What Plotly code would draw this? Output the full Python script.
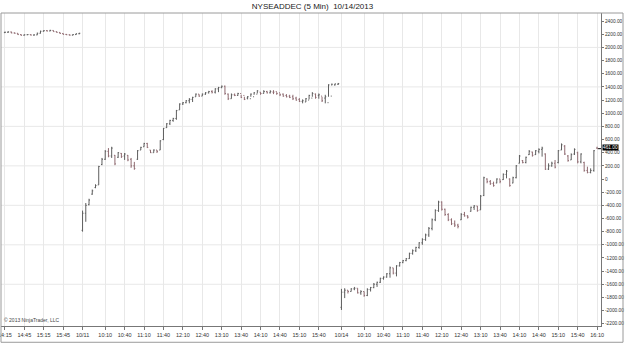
import plotly.graph_objects as go

# ---------------- data (NYSE Advance-Decline, 5 min bars) ----------------
# Session 1: 10/10 afternoon 14:15 .. 16:10
s1_open  = [2225,2230,2235,2220,2215,2195,2185,2192,2195,2188,2190,2215,2245,2255,2250,2258,2240,2228,2212,2198,2192,2186,2195,2208]
s1_high  = [2240,2245,2240,2228,2218,2200,2198,2200,2198,2196,2225,2255,2262,2262,2268,2260,2245,2232,2215,2205,2198,2200,2212,2222]
s1_low   = [2218,2222,2215,2210,2190,2180,2180,2186,2182,2180,2186,2210,2240,2244,2245,2238,2225,2208,2195,2188,2180,2182,2190,2200]
s1_close = [2230,2235,2220,2215,2195,2185,2192,2195,2188,2190,2215,2245,2255,2250,2258,2240,2228,2212,2198,2192,2186,2195,2208,2215]

# Session 2: 10/11 09:35 .. 16:10
s2_open  = [-780,-520,-390,-230,-130,-90,220,300,420,350,360,330,390,350,360,300,200,300,440,490,540,440,400,440,
            440,600,780,840,890,920,1050,1140,1160,1190,1210,1250,1290,1260,1290,1310,1330,1320,1370,1390,
            1410,1290,1220,1280,1270,1300,1270,1230,1220,1250,1290,1320,1300,1330,1310,1320,1330,1310,1290,1270,
            1260,1250,1230,1210,1180,1170,1200,1230,1290,1270,1260,1230,1160,1260,1430,1440]
s2_high  = [-480,-365,-300,-160,-80,200,320,440,470,490,365,410,395,395,365,320,260,440,490,550,550,440,450,440,
            590,775,850,900,930,1050,1150,1170,1200,1230,1250,1300,1290,1300,1320,1340,1350,1380,1400,1420,
            1420,1300,1300,1300,1310,1280,1250,1260,1300,1320,1350,1320,1350,1340,1350,1350,1320,1300,1300,1290,
            1280,1280,1250,1230,1210,1230,1280,1320,1300,1300,1250,1280,1440,1450,1450,1460]
s2_low   = [-800,-650,-400,-240,-140,-90,210,290,330,320,210,320,320,290,270,170,140,290,440,490,470,395,400,395,
            440,590,775,820,870,900,1050,1125,1150,1150,1170,1250,1250,1260,1280,1300,1300,1300,1320,1380,
            1280,1200,1220,1260,1265,1230,1200,1210,1250,1280,1300,1280,1300,1300,1300,1290,1280,1260,1250,1240,
            1230,1200,1190,1170,1150,1170,1210,1250,1220,1220,1170,1150,1250,1420,1420,1430]
s2_close = [-520,-400,-320,-180,-100,190,300,420,350,470,230,400,340,380,290,200,160,430,480,540,480,400,440,420,
            580,770,840,890,920,1040,1140,1160,1190,1210,1240,1290,1260,1290,1310,1330,1320,1370,1390,1410,
            1300,1220,1280,1270,1300,1240,1210,1250,1290,1310,1340,1300,1330,1310,1330,1320,1300,1280,1260,1250,
            1240,1220,1200,1180,1190,1220,1270,1300,1240,1280,1190,1250,1430,1440,1445,1450]

# Session 3: 10/14 09:35 .. 16:10
s3_open  = [-1950,-1720,-1690,-1710,-1670,-1660,-1730,-1710,-1770,-1680,-1650,-1600,-1570,-1510,-1490,-1440,-1350,-1430,-1320,-1270,-1240,
            -1210,-1130,-1090,-1040,-970,-920,-850,-750,-620,-480,-350,-460,-540,-620,-680,-700,-620,-540,-560,-490,-430,-410,-470,-250,
            0,-40,-70,-60,0,-10,70,0,-60,20,240,280,250,370,410,370,420,450,380,150,200,240,250,440,500,350,290,380,400,260,250,130,100,130,470]
s3_high  = [-1670,-1660,-1690,-1660,-1640,-1660,-1690,-1710,-1660,-1640,-1580,-1560,-1500,-1480,-1430,-1330,-1350,-1310,-1260,-1230,-1200,
            -1120,-1070,-1030,-960,-900,-830,-730,-600,-460,-330,-340,-450,-520,-598,-630,-680,-518,-500,-550,-420,-395,-410,-243,35,
            10,-15,-40,10,-5,85,137,10,35,213,365,289,340,440,415,440,466,491,390,238,263,289,440,541,516,365,390,466,415,390,263,187,162,440,491]
s3_low   = [-1990,-1810,-1740,-1710,-1690,-1740,-1760,-1790,-1780,-1710,-1660,-1640,-1580,-1530,-1500,-1500,-1450,-1480,-1330,-1280,-1250,
            -1215,-1150,-1110,-1060,-1000,-940,-880,-780,-640,-500,-480,-560,-640,-700,-730,-750,-623,-572,-600,-497,-470,-497,-470,-260,
            -65,-90,-117,-65,-65,-15,10,-117,-65,10,238,238,238,365,340,365,390,340,137,137,187,162,238,440,365,263,289,365,238,238,111,86,86,111,461]
s3_close = [-1720,-1690,-1710,-1670,-1660,-1730,-1710,-1770,-1680,-1650,-1600,-1570,-1510,-1490,-1440,-1350,-1430,-1320,-1270,-1240,-1210,
            -1130,-1090,-1040,-970,-920,-850,-750,-620,-480,-350,-460,-540,-620,-680,-700,-720,-540,-560,-580,-430,-410,-480,-260,20,
            -40,-70,-100,0,-40,70,120,-100,20,200,350,250,330,420,360,430,450,470,150,200,240,180,430,520,380,280,370,450,260,380,130,100,130,430,461]

# tick labels shown for each session (first entry of sessions 2/3 is the date label)
s1_ticks = ["14:15", "14:45", "15:15", "15:45"]
s2_ticks = ["10:10", "10:40", "11:10", "11:40", "12:10", "12:40", "13:10", "13:40",
            "14:10", "14:40", "15:10", "15:40"]
s3_ticks = ["10:10", "10:40", "11:10", "11:40", "12:10", "12:40", "13:10", "13:40",
            "14:10", "14:40", "15:10", "15:40", "16:10"]

sessions = [("14:15", s1_open, s1_high, s1_low, s1_close, None, s1_ticks),
            ("09:35", s2_open, s2_high, s2_low, s2_close, "10/11", s2_ticks),
            ("09:35", s3_open, s3_high, s3_low, s3_close, "10/14", s3_ticks)]

y_tick_vals = list(range(-2200, 2401, 200))
last_price = 461.00
title_text = "NYSEADDEC (5 Min)  10/14/2013"

# ---------------- build bar index / labels ----------------
def add_minutes(t, m):
    h, mm = map(int, t.split(":"))
    tot = h * 60 + mm + m
    return f"{tot // 60:02d}:{tot % 60:02d}"

xs, O, H, L, C = [], [], [], [], []
tickvals, ticktext = [], []
idx = 0
for start, o, h, l, c, datelabel, sticks in sessions:
    for j in range(len(o)):
        t = add_minutes(start, 5 * j)
        xs.append(idx)
        if j == 0 and datelabel:
            tickvals.append(idx); ticktext.append(datelabel)
        elif t in sticks:
            tickvals.append(idx); ticktext.append(t)
        idx += 1
    O += o; H += h; L += l; C += c

fig = go.Figure(go.Ohlc(
    x=xs, open=O, high=H, low=L, close=C,
    increasing=dict(line=dict(color="#5e5e5e", width=1)),
    decreasing=dict(line=dict(color="#8f6a70", width=1)),
    tickwidth=0.3, hoverinfo="skip", showlegend=False))

xr = [-1.2, xs[-1] + 1.2]
yr = [-2234, 2523]

R_MARGIN = 24
plot_w = 625 - 1 - R_MARGIN

shapes = []
for gy in range(-1600, 2401, 600):
    shapes.append(dict(type="line", xref="paper", x0=0, x1=1, yref="y", y0=gy, y1=gy,
                       line=dict(color="#e8e8e8", width=1), layer="below"))
# outer frame
shapes.append(dict(type="rect", xref="paper", yref="paper", x0=0, x1=(623 - 1) / plot_w,
                   y0=-0.052, y1=1.0, line=dict(color="#9a9a9a", width=1), layer="above"))
# dotted last-price line
shapes.append(dict(type="line", xref="x", yref="y", x0=xs[-1] + 0.3, x1=xr[1], y0=last_price, y1=last_price,
                   line=dict(color="#000000", width=1, dash="dot")))

fig.update_layout(
    width=625, height=345,
    margin=dict(l=1, r=R_MARGIN, t=13, b=19),
    paper_bgcolor="white", plot_bgcolor="white",
    font=dict(family="Arial, Liberation Sans, sans-serif", color="#222222"),
    title=dict(text=title_text, x=0.5, xanchor="center", y=0.983, yanchor="middle",
               font=dict(size=8, color="#222222")),
    xaxis=dict(range=xr, tickvals=tickvals, ticktext=ticktext, tickangle=0, showgrid=True,
               gridcolor="#e8e8e8", gridwidth=1, ticks="outside", ticklen=3,
               tickcolor="#777777", tickfont=dict(size=5.5, color="#333333"),
               ticklabeloverflow="allow", automargin=False,
               showline=True, linecolor="#777777", linewidth=1, zeroline=False,
               rangeslider=dict(visible=False)),
    yaxis=dict(range=yr, side="right", tickvals=y_tick_vals, automargin=False,
               ticktext=[("0" if v == 0 else f"{v:.2f}") for v in y_tick_vals],
               showgrid=False, zeroline=False, ticks="outside", ticklen=2,
               tickcolor="#777777", tickfont=dict(size=4.8, color="#333333"),
               showline=True, linecolor="#777777", linewidth=1),
    shapes=shapes,
    annotations=[
        dict(text=f"{last_price:.2f}", xref="paper", yref="y", x=1.0, y=last_price,
             xanchor="left", yanchor="middle", showarrow=False, bgcolor="#000000",
             font=dict(size=4.8, color="#ffffff"), borderpad=0, xshift=1, yshift=1),
        dict(text="© 2013 NinjaTrader, LLC", xref="paper", yref="paper", x=0.0, y=0.0,
             xanchor="left", yanchor="bottom", showarrow=False,
             font=dict(size=5, color="#444444"), xshift=1, yshift=1),
    ],
)

fig.write_html("out.html")
